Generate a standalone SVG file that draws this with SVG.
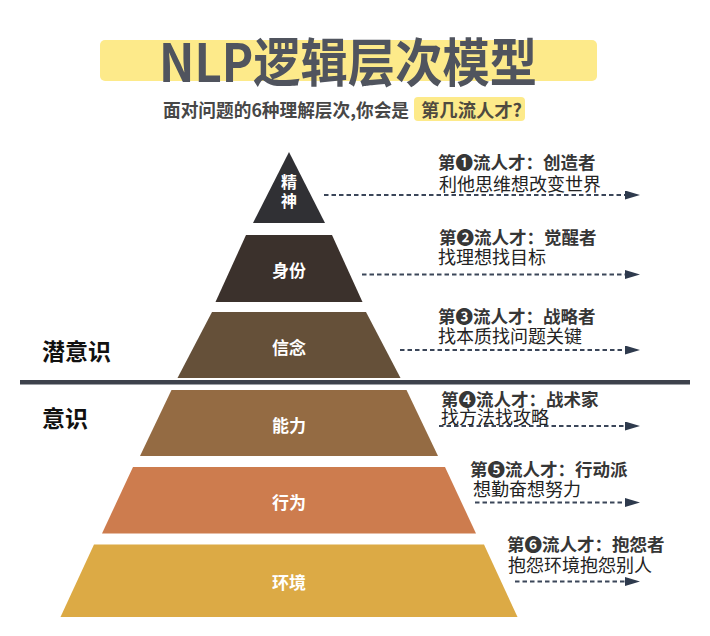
<svg xmlns="http://www.w3.org/2000/svg" width="710" height="636" viewBox="0 0 710 636">
<defs>
<style>
text{font-family:"Noto Sans CJK SC","Noto Sans",sans-serif;}
.lvl{fill:#ffffff;font-size:17px;font-weight:700;text-anchor:middle;dominant-baseline:central;}
.lvs{fill:#ffffff;font-size:16px;font-weight:700;text-anchor:middle;dominant-baseline:central;}
.hd{fill:#363636;font-size:17.5px;font-weight:700;dominant-baseline:central;}
.ds{fill:#222222;font-size:18px;font-weight:400;dominant-baseline:central;}
.side{fill:#111111;font-size:23px;font-weight:700;dominant-baseline:central;}
.conn{stroke:#3b4659;stroke-width:2;stroke-dasharray:4.5 3;fill:none;}
</style>
<marker id="ah" markerUnits="userSpaceOnUse" markerWidth="15" markerHeight="9" refX="0" refY="4.5" orient="auto" viewBox="0 0 15 9">
<path d="M0,0 L15,4.5 L0,9 Z" fill="#2e3a4d"/>
</marker>
</defs>
<rect width="710" height="636" fill="#ffffff"/>

<g id="title">
<rect x="100" y="40" width="497" height="41" rx="5" fill="#fdea8a"/>
<text x="348" y="59" font-size="52" font-weight="700" fill="#50545e" text-anchor="middle" dominant-baseline="central" textLength="378" lengthAdjust="spacingAndGlyphs">NLP逻辑层次模型</text>
</g>
<g id="subtitle">
<text x="163" y="109" font-size="18" font-weight="700" fill="#474747" dominant-baseline="central" textLength="246" lengthAdjust="spacingAndGlyphs">面对问题的6种理解层次,你会是</text>
<rect x="414" y="97" width="111" height="24" rx="4" fill="#fdea8a"/>
<text x="421" y="109" font-size="18" font-weight="700" fill="#4f4a40" dominant-baseline="central" textLength="101" lengthAdjust="spacingAndGlyphs">第几流人才?</text>
</g>

<g id="level-1">
<polygon points="289,152 325,223 253,223" fill="#303034"/>
<text class="lvs" x="289" y="181">精</text>
<text class="lvs" x="289" y="199.5">神</text>
</g>
<g id="level-2">
<polygon points="246,235 332,235 362.5,302 215.5,302" fill="#3b312c"/>
<text class="lvl" x="289" y="269.5">身份</text>
</g>
<g id="level-3">
<polygon points="212,312 366,312 400.5,378 177.5,378" fill="#655039"/>
<text class="lvl" x="289" y="346">信念</text>
</g>
<g id="level-4">
<polygon points="171.5,390 406.5,390 438,456 140,456" fill="#946b43"/>
<text class="lvl" x="289" y="424">能力</text>
</g>
<g id="level-5">
<polygon points="133,467 445,467 476,533.5 102,533.5" fill="#cd7c4e"/>
<text class="lvl" x="289" y="501">行为</text>
</g>
<g id="level-6">
<polygon points="94,544.5 484,544.5 517.5,617 60.5,617" fill="#dcaa45"/>
<text class="lvl" x="289" y="581">环境</text>
</g>

<g id="divider">
<rect x="20" y="380" width="670" height="4.5" fill="#3d424c"/>
<text class="side" x="42" y="350">潜意识</text>
<text class="side" x="42" y="417">意识</text>
</g>

<g id="talent-1">
<text class="hd" x="438" y="161">第❶流人才：创造者</text>
<text class="ds" x="439" y="183">利他思维想改变世界</text>
</g>
<g id="talent-2">
<text class="hd" x="439" y="236.5">第❷流人才：觉醒者</text>
<text class="ds" x="438" y="256">找理想找目标</text>
</g>
<g id="talent-3">
<text class="hd" x="438" y="315">第❸流人才：战略者</text>
<text class="ds" x="438" y="335">找本质找问题关键</text>
</g>
<g id="talent-4">
<text class="hd" x="441" y="398">第❹流人才：战术家</text>
<text class="ds" x="441" y="415.5">找方法找攻略</text>
</g>
<g id="talent-5">
<text class="hd" x="470" y="468.5">第❺流人才：行动派</text>
<text class="ds" x="473" y="488">想勤奋想努力</text>
</g>
<g id="talent-6">
<text class="hd" x="507" y="543.5">第❻流人才：抱怨者</text>
<text class="ds" x="508" y="563.5">抱怨环境抱怨别人</text>
</g>

<g id="connectors">
<line class="conn" x1="324" y1="195" x2="625" y2="195" marker-end="url(#ah)"/>
<line class="conn" x1="362" y1="274.5" x2="625" y2="274.5" marker-end="url(#ah)"/>
<line class="conn" x1="400" y1="350" x2="625" y2="350" marker-end="url(#ah)"/>
<line class="conn" x1="439" y1="426" x2="625" y2="426" marker-end="url(#ah)"/>
<line class="conn" x1="475" y1="502.5" x2="625" y2="502.5" marker-end="url(#ah)"/>
<line class="conn" x1="515" y1="581.5" x2="625" y2="581.5" marker-end="url(#ah)"/>
</g>
</svg>
